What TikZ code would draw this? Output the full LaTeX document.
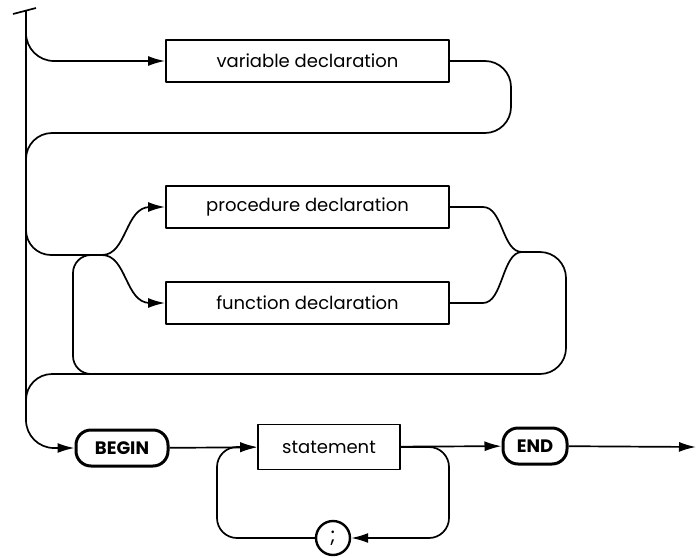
\documentclass[tikz,border=0pt]{standalone}
\usepackage{fontspec}
\setsansfont{Poppins}
\usetikzlibrary{arrows.meta}

\begin{document}
\begin{tikzpicture}[x=1pt, y=-1pt, font=\sffamily\fontsize{18}{21}\selectfont,
    line width=1.7pt, line join=round,
    decl/.style={draw, line width=1.9pt, minimum width=283pt, minimum height=42pt, inner sep=0pt},
    word/.style={draw, line width=3pt, rounded corners=15pt, minimum height=36pt, inner sep=0pt,
                 font=\sffamily\bfseries\fontsize{18}{20}\selectfont},
    flow/.style={-{Latex[length=17pt, width=10pt]}}]

    \useasboundingbox (0,0) rectangle (696,557);

    % Coordinates
    \coordinate (start) at (26,11);
    \coordinate (split) at (102,255);
    \coordinate (merge) at (522,252);
    \coordinate (exit) at (696,447);

    % Boxes
    \node[decl] (var) at (307.5,61) {variable declaration};
    \node[decl] (proc) at (307.5,207) {procedure declaration};
    \node[decl] (func) at (307.5,303) {function declaration};
    \node[word, minimum width=92pt] (begin) at (122,448) {BEGIN};
    \node[draw, line width=1.9pt, minimum width=142pt, minimum height=45pt] (stmt) at (329,447) {statement};
    \node[word, minimum width=64pt] (end) at (535,446) {END};
    \node[draw, circle, line width=2.4pt, minimum size=34pt, inner sep=0pt,
          font=\sffamily\fontsize{21}{21}\selectfont] (semi) at (333,538) {;};

    % Entry tick and main line
    \draw (13,14) -- (36,8);
    \draw[flow, rounded corners=28pt] (start) |- (begin.west);

    % Variable declaration (optional)
    \draw[flow, rounded corners=28pt] (start) |- (var.west);
    \draw[rounded corners=26pt] (var.east) -- (511,61) -- (511,133) -- (26,133) -- (26,170);

    % Procedure or function declarations, repeated
    \draw[rounded corners=25pt] (26,200) |- (split);
    \draw[flow] (split) .. controls (127,255) and (125,207) .. (150,207) -- (proc.west);
    \draw[flow] (split) .. controls (127,255) and (125,303) .. (150,303) -- (func.west);
    \draw (proc.east) -- (483,207) .. controls (503,207) and (502,252) .. (merge);
    \draw (func.east) -- (483,303) .. controls (503,303) and (502,252) .. (merge);
    \draw[rounded corners=26pt] (merge) -- (566,252) -- (566,374) -- (26,374) -- (26,420);
    \draw[rounded corners=18pt] (130,374) -| (73,255) -- (split);

    % Statement part
    \draw[flow] (begin) -- (stmt);
    \draw[flow] (stmt) -- (end);
    \draw[flow] (end) -- (exit);
    \draw[flow, rounded corners=20pt] (stmt.east) -| (449,538) -- (semi);
    \draw[flow, rounded corners=20pt] (semi) -| (217,447) -- (stmt.west);
\end{tikzpicture}
\end{document}
